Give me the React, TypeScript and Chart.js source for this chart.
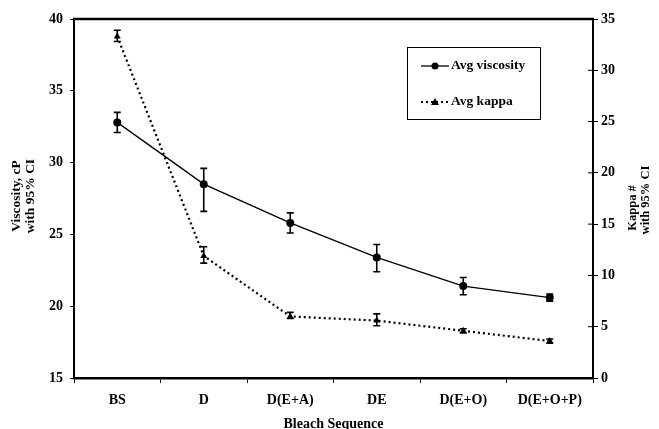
import React, { useEffect, useRef } from "react";
import { Chart, registerables } from "chart.js";

Chart.register(...registerables);

const categories = ["BS", "D", "D(E+A)", "DE", "D(E+O)", "D(E+O+P)"];
const viscosity = [32.8, 28.5, 25.8, 23.4, 21.4, 20.6];
const viscosityLow = [32.1, 26.6, 25.1, 22.4, 20.8, 20.35];
const viscosityHigh = [33.5, 29.6, 26.5, 24.3, 22.0, 20.85];
const kappa = [33.3, 11.9, 6.0, 5.6, 4.6, 3.6];
const kappaLow = [32.8, 11.2, 5.8, 5.1, 4.4, 3.4];
const kappaHigh = [33.9, 12.8, 6.4, 6.25, 4.8, 3.8];

const SERIF = "'Liberation Serif', 'Times New Roman', serif";

const errorBarPlugin = {
  id: "errorBars",
  afterDatasetsDraw(chart: any) {
    const ctx = chart.ctx;
    const sets = [
      { idx: 0, scale: chart.scales.y, lo: viscosityLow, hi: viscosityHigh },
      { idx: 1, scale: chart.scales.y1, lo: kappaLow, hi: kappaHigh },
    ];
    ctx.save();
    ctx.strokeStyle = "#000";
    ctx.lineWidth = 1.6;
    sets.forEach((s) => {
      const meta = chart.getDatasetMeta(s.idx);
      meta.data.forEach((pt: any, i: number) => {
        const x = pt.x;
        const yl = s.scale.getPixelForValue(s.lo[i]);
        const yh = s.scale.getPixelForValue(s.hi[i]);
        ctx.beginPath();
        ctx.moveTo(x, yl);
        ctx.lineTo(x, yh);
        ctx.moveTo(x - 3.5, yl);
        ctx.lineTo(x + 3.5, yl);
        ctx.moveTo(x - 3.5, yh);
        ctx.lineTo(x + 3.5, yh);
        ctx.stroke();
      });
    });
    ctx.restore();
  },
};

const decorPlugin = {
  id: "decor",
  afterDraw(chart: any) {
    const ctx = chart.ctx;
    const a = chart.chartArea;
    ctx.save();
    // top frame
    ctx.strokeStyle = "#000";
    ctx.lineWidth = 2.5;
    ctx.beginPath();
    ctx.moveTo(a.left - 1, a.top);
    ctx.lineTo(a.right + 1, a.top);
    ctx.stroke();
    // inner part of right-axis ticks
    ctx.lineWidth = 1;
    const y1 = chart.scales.y1;
    y1.ticks.forEach((t: any) => {
      const y = y1.getPixelForValue(t.value);
      ctx.beginPath();
      ctx.moveTo(a.right - 5, y);
      ctx.lineTo(a.right, y);
      ctx.stroke();
    });

    // axis titles
    ctx.fillStyle = "#000";
    ctx.textAlign = "center";
    ctx.textBaseline = "middle";
    ctx.font = `bold 13.5px ${SERIF}`;
    ctx.save();
    ctx.translate(17, 196);
    ctx.rotate(-Math.PI / 2);
    ctx.fillText("Viscosity, cP", 0, 0);
    ctx.restore();
    ctx.save();
    ctx.translate(31, 196);
    ctx.rotate(-Math.PI / 2);
    ctx.fillText("with 95% CI", 0, 0);
    ctx.restore();

    ctx.font = `bold 12.5px ${SERIF}`;
    ctx.save();
    ctx.translate(633, 208);
    ctx.rotate(-Math.PI / 2);
    ctx.fillText("Kappa #", 0, 0);
    ctx.restore();
    ctx.save();
    ctx.translate(646, 200);
    ctx.rotate(-Math.PI / 2);
    ctx.fillText("with 95% CI", 0, 0);
    ctx.restore();

    ctx.font = `bold 14px ${SERIF}`;
    ctx.fillText("Bleach Sequence", (a.left + a.right) / 2, 424);

    // legend
    ctx.lineWidth = 1;
    ctx.strokeRect(407.5, 47.5, 133, 72);
    const ds = chart.data.datasets;
    const entries = [
      { y: 66, d: ds[0] },
      { y: 102, d: ds[1] },
    ];
    entries.forEach((e) => {
      ctx.save();
      ctx.strokeStyle = "#000";
      ctx.lineWidth = e.d.borderWidth;
      ctx.setLineDash(e.d.borderDash || []);
      ctx.beginPath();
      ctx.moveTo(421, e.y);
      ctx.lineTo(449, e.y);
      ctx.stroke();
      ctx.restore();
      ctx.save();
      ctx.fillStyle = "#000";
      ctx.beginPath();
      if (e.d.pointStyle === "triangle") {
        ctx.moveTo(435, e.y - 4);
        ctx.lineTo(439, e.y + 3);
        ctx.lineTo(431, e.y + 3);
        ctx.closePath();
      } else {
        ctx.arc(435, e.y, 3.5, 0, Math.PI * 2);
      }
      ctx.fill();
      ctx.restore();
      ctx.font = `bold 13.5px ${SERIF}`;
      ctx.textAlign = "left";
      ctx.fillText(e.d.label, 451, e.y);
    });
    ctx.restore();
  },
};

export default function App() {
  const ref = useRef<HTMLCanvasElement>(null);
  useEffect(() => {
    if (!ref.current) return;
    const tickFont = { family: SERIF, size: 14, weight: "bold" };
    const chart = new Chart(ref.current, {
      type: "line",
      data: {
        labels: categories,
        datasets: [
          {
            label: "Avg viscosity",
            data: viscosity,
            yAxisID: "y",
            borderColor: "#000",
            backgroundColor: "#000",
            borderWidth: 1.3,
            pointStyle: "circle",
            pointRadius: 4,
            pointBorderWidth: 0,
            tension: 0,
          },
          {
            label: "Avg kappa",
            data: kappa,
            yAxisID: "y1",
            borderColor: "#000",
            backgroundColor: "#000",
            borderWidth: 2.2,
            borderDash: [2, 3],
            pointStyle: "triangle",
            pointRadius: 4,
            pointBorderWidth: 0,
            tension: 0,
          },
        ],
      },
      options: {
        responsive: false,
        animation: false,
        layout: { padding: { top: 19, left: 0, right: 0, bottom: 0 } },
        plugins: { legend: { display: false }, tooltip: { enabled: false } },
        scales: {
          x: {
            type: "category",
            offset: true,
            grid: {
              offset: true,
              drawOnChartArea: false,
              tickLength: 5,
              color: "#000",
              lineWidth: 1,
            },
            border: { display: true, color: "#000", width: 2.5 },
            ticks: { font: tickFont, color: "#000", padding: 9, maxRotation: 0 },
            afterFit(scale: any) {
              scale.height = 51;
            },
          },
          y: {
            position: "left",
            min: 15,
            max: 40,
            grid: { drawOnChartArea: false, tickLength: 4, color: "#000" },
            border: { display: true, color: "#000", width: 2 },
            ticks: { stepSize: 5, font: tickFont, color: "#000", padding: 7 },
            afterFit(scale: any) {
              scale.width = 74;
            },
          },
          y1: {
            position: "right",
            min: 0,
            max: 35,
            grid: { drawOnChartArea: false, tickLength: 5, color: "#000" },
            border: { display: true, color: "#000", width: 2 },
            ticks: { stepSize: 5, font: tickFont, color: "#000", padding: 3 },
            afterFit(scale: any) {
              scale.width = 66;
            },
          },
        },
      },
      plugins: [errorBarPlugin, decorPlugin],
    } as any);
    return () => chart.destroy();
  }, []);
  return (
    <div style={{ position: "fixed", left: 0, top: 0, width: 659, height: 429, background: "#fff" }}>
      <canvas ref={ref} width={659} height={429} style={{ width: 659, height: 429 }} />
    </div>
  );
}
